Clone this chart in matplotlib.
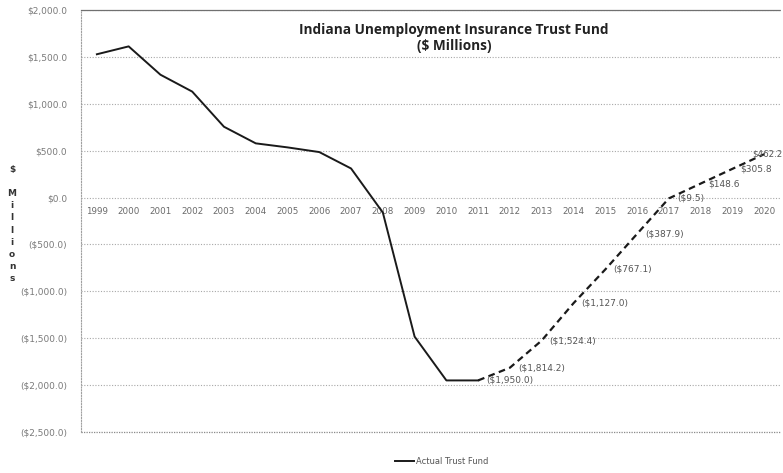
import matplotlib
matplotlib.use("Agg")
import matplotlib.pyplot as plt
from matplotlib.ticker import FixedLocator

years = [str(y) for y in range(1999, 2021)]
actual_years = years[:13]           # 1999..2011
actual_values = [1528, 1612, 1310, 1130, 755, 578, 535, 485, 310, -160, -1483, -1950, -1950]
proj_years = years[12:]             # 2011..2020
proj_values = [-1950.0, -1814.2, -1524.4, -1127.0, -767.1, -387.9, -9.5, 148.6, 305.8, 462.2]
proj_labels = ["($1,950.0)", "($1,814.2)", "($1,524.4)", "($1,127.0)", "($767.1)",
               "($387.9)", "($9.5)", "$148.6", "$305.8", "$462.2"]
y_ticks = [2000, 1500, 1000, 500, 0, -500, -1000, -1500, -2000, -2500]
y_tick_labels = ["$2,000.0", "$1,500.0", "$1,000.0", "$500.0", "$0.0", "($500.0)",
                 "($1,000.0)", "($1,500.0)", "($2,000.0)", "($2,500.0)"]

fig = plt.figure(figsize=(7.83, 4.73), dpi=100)
ax = fig.add_axes([81/783, 1-432/473, 699/783, 422/473])
ax.spines["bottom"].set_position(("data", 0))
ax.spines["bottom"].set_visible(False)

xi = {y: i for i, y in enumerate(years)}
ax.plot([xi[y] for y in actual_years], actual_values, color="#1a1a1a", lw=1.4,
        label="Actual Trust Fund", solid_joinstyle="round")
ax.plot([xi[y] for y in proj_years], proj_values, color="#1a1a1a", lw=1.6,
        dashes=(3, 2))

for y, v, t in zip(proj_years, proj_values, proj_labels):
    if y == "2020":
        ax.annotate(t, (xi[y], v), xytext=(18, 0), textcoords="offset pixels",
                    ha="right", va="center", fontsize=6.3, color="#555555", annotation_clip=False)
    else:
        ax.annotate(t, (xi[y], v), xytext=(8, 0), textcoords="offset pixels",
                    ha="left", va="center", fontsize=6.5, color="#555555", annotation_clip=False)

ax.set_xlim(-0.5, len(years) - 0.5)
ax.set_ylim(-2500, 2000)
ax.yaxis.set_major_locator(FixedLocator(y_ticks))
ax.set_yticklabels(y_tick_labels)
ax.tick_params(axis="y", length=0, pad=10, labelsize=6.5, labelcolor="#7a7a7a")
ax.grid(axis="y", linestyle=(0, (1, 1.5)), color="#a8a8a8", lw=0.8)
ax.set_axisbelow(True)
ax.axhline(-2500, linestyle=(0, (1, 1)), color="#8a8a8a", lw=0.9, clip_on=False, zorder=0.5)

ax.set_xticks(range(len(years)))
ax.set_xticklabels(years)
ax.tick_params(axis="x", length=0, pad=7, labelsize=6.3, labelcolor="#6a6a6a")

ax.spines["right"].set_visible(False)
ax.spines["left"].set_linestyle((0, (1, 1.5)))
ax.spines["left"].set_color("#a0a0a0")
ax.spines["left"].set_linewidth(0.8)
ax.spines["top"].set_linestyle((0, (1, 1)))
ax.spines["top"].set_color("#707070")
ax.spines["top"].set_linewidth(0.9)

fig.text(454/783, 1-38/473, "Indiana Unemployment Insurance Trust Fund\n($ Millions)",
         ha="center", va="center", fontsize=9.8, fontweight="bold", family="Open Sans",
         color="#222222", linespacing=1.2)

fig.text(12/783, 1-224/473, "\n".join("$ Millions"), ha="center", va="center",
         fontsize=6.5, fontweight="bold", color="#333333", linespacing=1.45)

leg = fig.legend(handles=[ax.lines[0]], loc="center", bbox_to_anchor=(442/783, 1-461/473),
                 frameon=False, fontsize=6, handlelength=2.2, handletextpad=0.3)
for t in leg.get_texts():
    t.set_color("#555555")

fig.savefig("out.png", dpi=100, facecolor="white")
